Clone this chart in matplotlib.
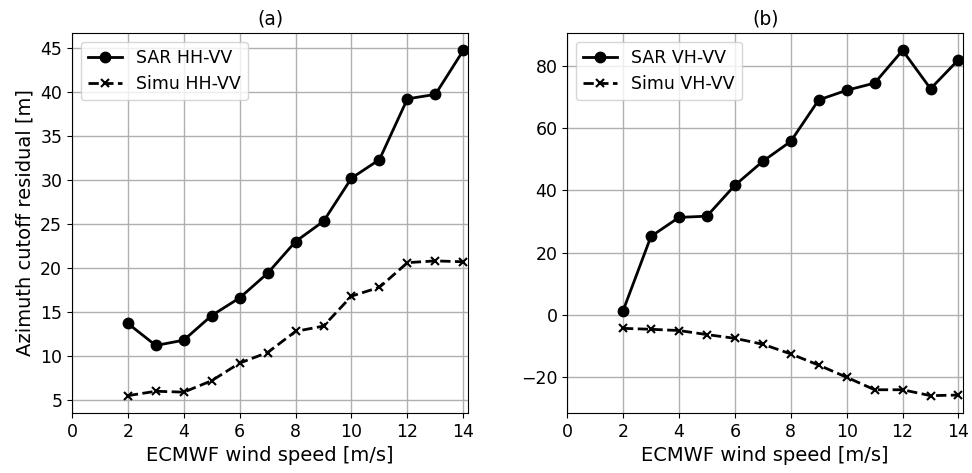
import matplotlib
matplotlib.use('Agg')
import matplotlib.pyplot as plt

wind = [2, 3, 4, 5, 6, 7, 8, 9, 10, 11, 12, 13, 14]

sar_hh_vv = [13.7, 11.2, 11.8, 14.6, 16.6, 19.4, 23.0, 25.3, 30.2, 32.3, 39.2, 39.7, 44.7]
simu_hh_vv = [5.5, 6.0, 5.9, 7.2, 9.2, 10.4, 12.8, 13.4, 16.8, 17.8, 20.6, 20.8, 20.7]

sar_vh_vv = [1.3, 25.2, 31.3, 31.7, 41.6, 49.3, 55.7, 69.0, 72.1, 74.4, 84.9, 72.6, 81.9]
simu_vh_vv = [-4.3, -4.6, -5.0, -6.3, -7.5, -9.4, -12.5, -16.1, -20.0, -24.0, -24.0, -25.9, -25.7]

plt.rcParams['font.size'] = 13
plt.rcParams['xtick.labelsize'] = 12.5
plt.rcParams['ytick.labelsize'] = 12.5

fig, (ax1, ax2) = plt.subplots(1, 2, figsize=(9.72, 4.73), dpi=100)
fig.subplots_adjust(left=0.074, right=0.991, top=0.93, bottom=0.127, wspace=0.25)

panels = [
    (ax1, sar_hh_vv, simu_hh_vv, 'HH-VV', '(a)'),
    (ax2, sar_vh_vv, simu_vh_vv, 'VH-VV', '(b)'),
]

for ax, sar, simu, pol, ttl in panels:
    ax.plot(wind, sar, 'k-o', lw=2, ms=7.5, label=f'SAR {pol}')
    ax.plot(wind, simu, 'k--x', lw=2, ms=6, mew=1.5, label=f'Simu {pol}')
    ax.set_xlim(0, 14.17)
    ax.set_xticks(range(0, 15, 2))
    ax.grid(True, color='#b0b0b0', lw=1)
    ax.set_xlabel('ECMWF wind speed [m/s]', fontsize=14)
    ax.set_title(ttl, fontsize=13.5)
    ax.legend(loc='upper left', fontsize=12.5)

ax1.set_ylabel('Azimuth cutoff residual [m]', fontsize=14)

plt.savefig('out.png', dpi=100)
